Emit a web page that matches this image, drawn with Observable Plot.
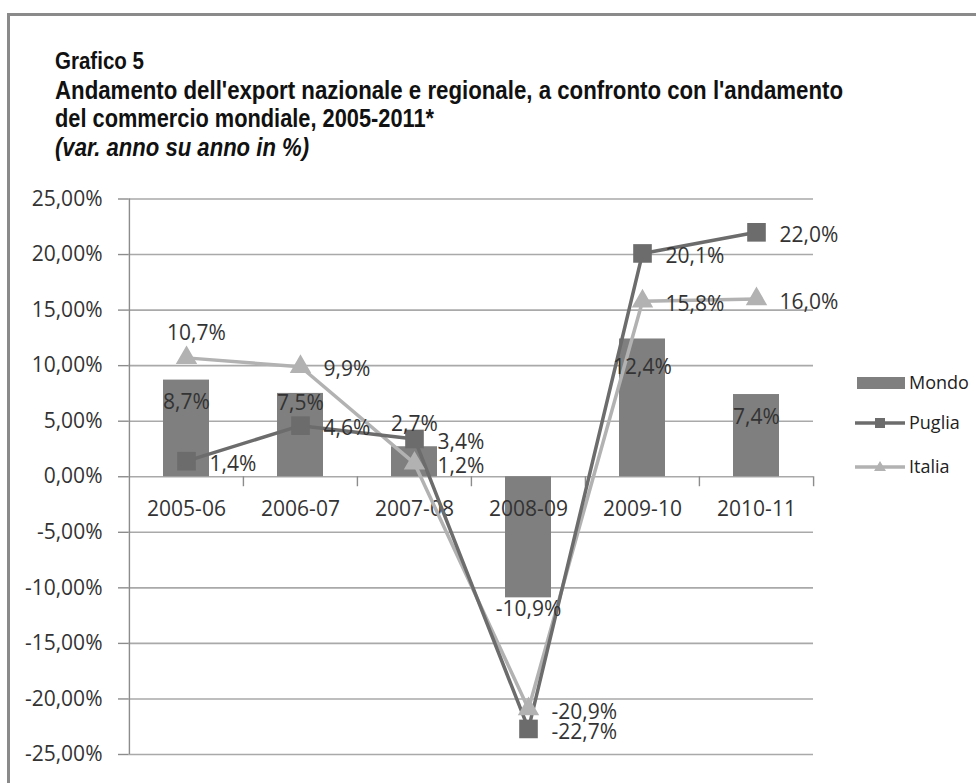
<!DOCTYPE html>
<html>
<head>
<meta charset="utf-8">
<script src="https://cdn.jsdelivr.net/npm/d3@7"></script>
<script src="https://cdn.jsdelivr.net/npm/@observablehq/plot@0.6"></script>
<style>
  html, body { margin: 0; padding: 0; background: #fff; width: 976px; height: 783px; overflow: hidden; }
  #frame { position: absolute; left: 7px; top: 13px; width: 1000px; height: 800px; border: 3px solid #8a8a8a; box-sizing: border-box; }
  #title { position: absolute; left: 55px; top: 46px; font-family: "Liberation Sans Narrow", "Arial Narrow", "Liberation Sans", sans-serif; font-weight: bold; font-size: 25px; line-height: 28.5px; color: #111; }
  #title span { display: inline-block; white-space: nowrap; transform-origin: 0 50%; }
  #chart { position: absolute; left: 0; top: 170px; }
  #legend { position: absolute; left: 850px; top: 365px; }
</style>
</head>
<body>
<div id="frame"></div>
<div id="title">
  <span data-w="89" style="font-size: 23px">Grafico 5</span><br>
  <span data-w="788">Andamento dell'export nazionale e regionale, a confronto con l'andamento</span><br>
  <span data-w="379">del commercio mondiale, 2005-2011*</span><br>
  <span data-w="254" style="font-style: italic">(var. anno su anno in %)</span>
</div>
<div id="chart"></div>
<div id="legend"></div>
<script>
// ---- data ----
const categories = ["2005-06", "2006-07", "2007-08", "2008-09", "2009-10", "2010-11"];
const mondo  = [8.7, 7.5, 2.7, -10.9, 12.4, 7.4];
const puglia = [1.4, 4.6, 3.4, -22.7, 20.1, 22.0];
const italia = [10.7, 9.9, 1.2, -20.9, 15.8, 16.0];
const yTicks = [-25, -20, -15, -10, -5, 0, 5, 10, 15, 20, 25];
const seriesNames = ["Mondo", "Puglia", "Italia"];

// ---- styles ----
const C_MONDO = "#7f7f7f", C_PUGLIA = "#6c6c6c", C_ITALIA = "#b2b2b2";
const TEXT = "#333333";
const FONT = "'Open Sans', sans-serif";
const W = 976, H = 613, ML = 128, MR = 163, MT = 28.5, MB = 29;
const step = (W - ML - MR) / categories.length;
const mondoDy = [22, 10, -22, 11, 28, 23];

const fmt = v => v.toFixed(1).replace(".", ",") + "%";
const fmtAxis = v => v.toFixed(2).replace(".", ",") + "%";

const rows = categories.map((c, i) => ({cat: c, mondo: mondo[i], puglia: puglia[i], italia: italia[i], i}));

const mondoLabels = rows.map(r => Plot.text([r], {
  x: "cat", y: "mondo", text: d => fmt(d.mondo), dy: mondoDy[r.i],
  fill: TEXT, fontSize: 21, fontFamily: FONT, textAnchor: "middle"
}));

const plot = Plot.plot({
  width: W, height: H,
  marginLeft: ML, marginRight: MR, marginTop: MT, marginBottom: MB,
  x: {domain: categories, paddingInner: 0.6, paddingOuter: 0.3, axis: null},
  y: {domain: [-25, 25], axis: null},
  style: {fontFamily: FONT, fontSize: "21px", color: TEXT, background: "transparent", overflow: "visible"},
  marks: [
    Plot.gridY(yTicks, {stroke: "#a9a9a9", strokeOpacity: 1, strokeWidth: 1.6}),
    Plot.axisY(yTicks, {tickSize: 10, tickPadding: 16, tickFormat: fmtAxis, stroke: "#8c8c8c", strokeWidth: 1.4, fill: TEXT, fontSize: 21, fontFamily: FONT}),
    // vertical axis line
    Plot.ruleX([categories[0]], {x: d => d, y1: -25, y2: 25, dx: -step / 2, stroke: "#8c8c8c", strokeWidth: 1.4}),
    // category boundary ticks on the zero line
    Plot.ruleX(categories.slice(1), {x: d => d, y1: 0, y2: -0.9, dx: -step / 2, stroke: "#8c8c8c", strokeWidth: 1.4}),
    Plot.ruleX([categories[categories.length - 1]], {x: d => d, y1: 0, y2: -0.9, dx: step / 2, stroke: "#8c8c8c", strokeWidth: 1.4}),
    // bars
    Plot.barY(rows, {x: "cat", y1: 0, y2: "mondo", fill: C_MONDO}),
    // category labels
    Plot.text(categories, {x: d => d, y: 0, dy: 33, text: d => d, fill: TEXT, fontSize: 21, fontFamily: FONT}),
    // lines
    Plot.line(rows, {x: "cat", y: "italia", stroke: C_ITALIA, strokeWidth: 3.5}),
    Plot.line(rows, {x: "cat", y: "puglia", stroke: C_PUGLIA, strokeWidth: 3.5}),
    Plot.dot(rows, {x: "cat", y: "italia", symbol: "triangle", r: 7, fill: C_ITALIA, stroke: C_ITALIA}),
    Plot.dot(rows, {x: "cat", y: "puglia", symbol: "square", r: 10.5, fill: C_PUGLIA, stroke: "none"}),
    // labels
    ...mondoLabels,
    Plot.text(rows, {x: "cat", y: "puglia", text: d => fmt(d.puglia), dx: 23, dy: 3, textAnchor: "start", fill: TEXT, fontSize: 21, fontFamily: FONT}),
    Plot.text(rows.slice(1), {x: "cat", y: "italia", text: d => fmt(d.italia), dx: 23, dy: 3, textAnchor: "start", fill: TEXT, fontSize: 21, fontFamily: FONT}),
    Plot.text(rows.slice(0, 1), {x: "cat", y: "italia", text: d => fmt(d.italia), dx: 10, dy: -25, textAnchor: "middle", fill: TEXT, fontSize: 21, fontFamily: FONT})
  ]
});
document.getElementById("chart").appendChild(plot);

// ---- legend ----
const lg = d3.select("#legend").append("svg").attr("width", 126).attr("height", 120);
const rowsY = [18, 58, 102];
// Mondo
lg.append("rect").attr("x", 7).attr("y", rowsY[0] - 6).attr("width", 48).attr("height", 12).attr("fill", C_MONDO);
// Puglia
lg.append("line").attr("x1", 5).attr("x2", 55).attr("y1", rowsY[1]).attr("y2", rowsY[1]).attr("stroke", C_PUGLIA).attr("stroke-width", 3.5);
lg.append("rect").attr("x", 25).attr("y", rowsY[1] - 5).attr("width", 10).attr("height", 10).attr("fill", C_PUGLIA);
// Italia
lg.append("line").attr("x1", 5).attr("x2", 55).attr("y1", rowsY[2]).attr("y2", rowsY[2]).attr("stroke", C_ITALIA).attr("stroke-width", 3.5);
lg.append("path").attr("d", `M30,${rowsY[2] - 6}L36,${rowsY[2] + 4}L24,${rowsY[2] + 4}Z`).attr("fill", C_ITALIA);
lg.selectAll("text.l").data(seriesNames).join("text")
  .attr("x", 59).attr("y", (d, i) => rowsY[i]).attr("dy", "0.35em")
  .attr("font-family", FONT).attr("font-size", 18).attr("fill", "#222")
  .text(d => d);

// ---- fit title lines to reference widths ----
document.querySelectorAll("#title span").forEach(s => {
  const target = +s.dataset.w;
  const w = s.getBoundingClientRect().width;
  if (w > 0) s.style.transform = `scaleX(${target / w})`;
});
</script>
</body>
</html>
